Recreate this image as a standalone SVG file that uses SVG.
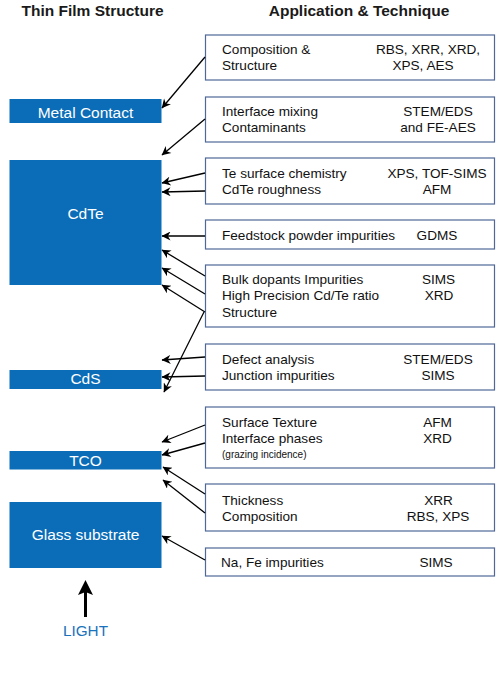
<svg xmlns="http://www.w3.org/2000/svg" width="500" height="674" viewBox="0 0 500 674">
<defs>
<marker id="ah" viewBox="0 0 10 10" refX="9.5" refY="5" markerWidth="10" markerHeight="9" markerUnits="userSpaceOnUse" orient="auto">
<path d="M0,0 L10,5 L0,10 L3,5 z" fill="#000"/>
</marker>
<style>
.hdr{font-family:"Liberation Sans",Arial,sans-serif;font-weight:bold;font-size:15.5px;fill:#1a1a1a;text-anchor:middle}
.blk{fill:#0b6db7}
.bl{font-family:"Liberation Sans",Arial,sans-serif;font-size:15.5px;fill:#fff;text-anchor:middle}
.box{fill:#fff;stroke:#4f6896;stroke-width:1.2}
.t{font-family:"Liberation Sans",Arial,sans-serif;font-size:13.6px;fill:#111}
.r{text-anchor:middle}
.sm{font-size:10px}
.con line{stroke:#000;stroke-width:1.3;marker-end:url(#ah)}
</style>
</defs>
<rect width="500" height="674" fill="#fff"/>
<text class="hdr" x="92.5" y="15.5">Thin Film Structure</text>
<text class="hdr" x="359" y="15.5">Application &amp; Technique</text>

<g id="metal-contact"><rect class="blk" x="9.5" y="99" width="152" height="24"/><text class="bl" x="85.5" y="117.5">Metal Contact</text></g>
<g id="cdte"><rect class="blk" x="9.5" y="160" width="152" height="125"/><text class="bl" x="85.5" y="219">CdTe</text></g>
<g id="cds"><rect class="blk" x="9.5" y="370" width="152" height="19"/><text class="bl" x="85.5" y="384">CdS</text></g>
<g id="tco"><rect class="blk" x="9.5" y="451" width="152" height="18.5"/><text class="bl" x="85.5" y="465.5">TCO</text></g>
<g id="glass"><rect class="blk" x="9.5" y="502" width="152" height="66"/><text class="bl" x="85.5" y="540">Glass substrate</text></g>
<g id="light"><line x1="85.5" y1="617" x2="85.5" y2="590" stroke="#000" stroke-width="3"/><path d="M85.5,580 L93,595 L85.5,592 L78,595 z" fill="#000"/><text x="85.5" y="636" font-family="Liberation Sans, Arial, sans-serif" font-size="15.3" fill="#1a72ba" text-anchor="middle">LIGHT</text></g>

<g id="box1"><rect class="box" x="205.5" y="35" width="289" height="45"/>
<text class="t" x="222" y="54">Composition &amp;</text><text class="t" x="222" y="70">Structure</text>
<text class="t r" x="428" y="54">RBS, XRR, XRD,</text><text class="t r" x="423" y="70">XPS, AES</text></g>
<g id="box2"><rect class="box" x="205.5" y="97" width="289" height="45"/>
<text class="t" x="222" y="115.5">Interface mixing</text><text class="t" x="222" y="131.5">Contaminants</text>
<text class="t r" x="438" y="115.5">STEM/EDS</text><text class="t r" x="438" y="131.5">and FE-AES</text></g>
<g id="box3"><rect class="box" x="205.5" y="158" width="289" height="46"/>
<text class="t" x="222" y="177.5">Te surface chemistry</text><text class="t" x="222" y="194">CdTe roughness</text>
<text class="t r" x="437" y="177.5">XPS, TOF-SIMS</text><text class="t r" x="437" y="194">AFM</text></g>
<g id="box4"><rect class="box" x="205.5" y="220" width="289" height="29"/>
<text class="t" x="222" y="240">Feedstock powder impurities</text><text class="t r" x="437" y="240">GDMS</text></g>
<g id="box5"><rect class="box" x="205.5" y="265" width="289" height="62"/>
<text class="t" x="222" y="283.5">Bulk dopants Impurities</text><text class="t" x="222" y="300">High Precision Cd/Te ratio</text><text class="t" x="222" y="316.5">Structure</text>
<text class="t r" x="438.5" y="283.5">SIMS</text><text class="t r" x="439" y="300">XRD</text></g>
<g id="box6"><rect class="box" x="205.5" y="344" width="289" height="46"/>
<text class="t" x="222" y="363.5">Defect analysis</text><text class="t" x="222" y="380">Junction impurities</text>
<text class="t r" x="438" y="363.5">STEM/EDS</text><text class="t r" x="438" y="380">SIMS</text></g>
<g id="box7"><rect class="box" x="205.5" y="407" width="289" height="61"/>
<text class="t" x="222" y="426.5">Surface Texture</text><text class="t" x="222" y="443">Interface phases</text><text class="t sm" x="222" y="458">(grazing incidence)</text>
<text class="t r" x="437.5" y="426.5">AFM</text><text class="t r" x="437.5" y="443">XRD</text></g>
<g id="box8"><rect class="box" x="205.5" y="484" width="289" height="47"/>
<text class="t" x="222" y="504.5">Thickness</text><text class="t" x="222" y="521">Composition</text>
<text class="t r" x="438.5" y="504.5">XRR</text><text class="t r" x="438" y="521">RBS, XPS</text></g>
<g id="box9"><rect class="box" x="205.5" y="548" width="289" height="28"/>
<text class="t" x="221" y="567">Na, Fe impurities</text><text class="t r" x="436" y="567">SIMS</text></g>

<g id="connectors" class="con">
<line x1="205" y1="57" x2="162" y2="108"/>
<line x1="205" y1="119" x2="162" y2="155"/>
<line x1="205" y1="173" x2="162" y2="183"/>
<line x1="205" y1="191" x2="162" y2="192"/>
<line x1="205" y1="236" x2="162" y2="236"/>
<line x1="205" y1="276" x2="162" y2="250"/>
<line x1="205" y1="294" x2="162" y2="268"/>
<line x1="205" y1="312" x2="162" y2="285"/>
<line x1="204" y1="312" x2="164" y2="392"/>
<line x1="205" y1="357" x2="162" y2="360"/>
<line x1="205" y1="376" x2="162" y2="377"/>
<line x1="205" y1="425" x2="162" y2="442"/>
<line x1="205" y1="443" x2="162" y2="455"/>
<line x1="205" y1="494" x2="163" y2="467"/>
<line x1="205" y1="513" x2="163" y2="480"/>
<line x1="205" y1="560" x2="162" y2="536"/>
</g>
</svg>
